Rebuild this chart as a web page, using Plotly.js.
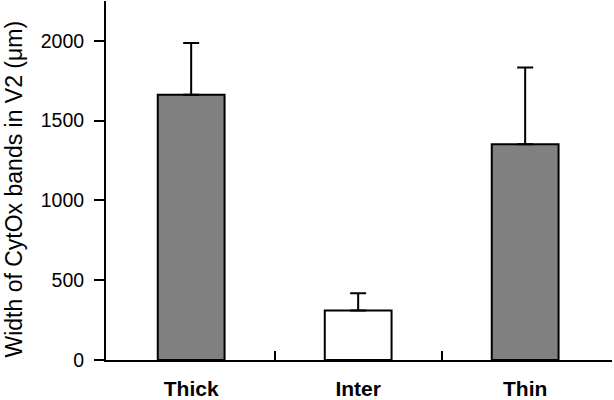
<!DOCTYPE html>
<html>
<head>
<meta charset="utf-8">
<script src="https://cdn.plot.ly/plotly-3.0.1.min.js"></script>
<style>html,body{margin:0;padding:0;background:#fff;}#chart{width:614px;height:400px;}</style>
</head>
<body>
<div id="chart"></div>
<script>
// Data
var categories = ["Thick", "Inter", "Thin"];
var widths = [1662, 311, 1352];      // mean band width (µm)
var errors = [324, 107, 482];        // upper error bar
var yTickVals = [0, 500, 1000, 1500, 2000];
var yTitle = "Width of CytOx bands in V2 (\u03bcm)";

var fills = ["#808080", "#ffffff", "#808080"];
var xPos = categories.map(function (c, i) { return i; });

var trace = {
  type: "bar",
  x: xPos,
  y: widths,
  width: 0.4,
  marker: { color: fills, line: { color: "#000", width: 2 } },
  error_y: {
    type: "data",
    symmetric: false,
    array: errors,
    arrayminus: errors.map(function () { return 0; }),
    color: "#000",
    thickness: 2,
    width: 8
  },
  hoverinfo: "none"
};

var layout = {
  width: 614,
  height: 400,
  margin: { l: 106, r: 2, t: 1, b: 40 },
  paper_bgcolor: "#fff",
  plot_bgcolor: "#fff",
  showlegend: false,
  font: { family: "Liberation Sans, Arial, sans-serif", color: "#000" },
  xaxis: {
    type: "linear",
    range: [-0.51, 2.52],
    tickmode: "array",
    tickvals: xPos,
    ticktext: categories,
    ticks: "",
    ticklabelstandoff: 9,
    tickfont: { size: 21, family: "Liberation Sans, Arial, sans-serif", weight: "bold" },
    showline: true,
    linecolor: "#000",
    linewidth: 2,
    showgrid: false,
    zeroline: false,
    minor: {
      tickmode: "array",
      tickvals: xPos.slice(0, -1).map(function (v) { return v + 0.5; }),
      ticks: "inside",
      ticklen: 9,
      tickwidth: 2,
      tickcolor: "#000",
      showgrid: false
    }
  },
  yaxis: {
    range: [0, 2250],
    tickmode: "array",
    tickvals: yTickVals,
    ticks: "outside",
    ticklen: 10,
    tickwidth: 2,
    tickcolor: "#000",
    ticklabelstandoff: 6,
    tickfont: { size: 19.5 },
    showline: true,
    linecolor: "#000",
    linewidth: 2,
    showgrid: false,
    zeroline: false
  },
  annotations: [{
    text: yTitle,
    xref: "paper",
    yref: "paper",
    x: -0.181,
    y: 0.476,
    xanchor: "center",
    yanchor: "middle",
    textangle: -90,
    showarrow: false,
    borderpad: 0,
    font: { size: 23, family: "Liberation Sans, Arial, sans-serif", color: "#000" }
  }]
};

Plotly.newPlot("chart", [trace], layout, { staticPlot: true, displayModeBar: false });
</script>
</body>
</html>
